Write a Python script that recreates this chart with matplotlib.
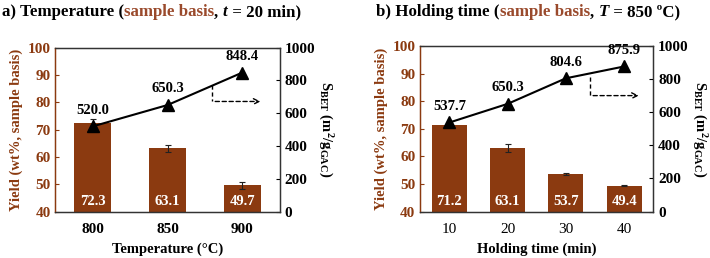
import matplotlib
matplotlib.use("Agg")
import matplotlib.pyplot as plt
import numpy as np

# Data
temp_labels = ["800", "850", "900"]
temp_yield = [72.3, 63.1, 49.7]
temp_yield_err = [1.5, 1.4, 1.3]
temp_sbet = [520.0, 650.3, 848.4]

time_labels = ["10", "20", "30", "40"]
time_yield = [71.2, 63.1, 53.7, 49.4]
time_yield_err = [0.0, 1.5, 0.3, 0.3]
time_sbet = [537.7, 650.3, 804.6, 875.9]

BROWN = "#8B3A10"
TITLE_BROWN = "#9A4A2C"
SPINE = "#333333"

plt.rcParams["font.family"] = ["Liberation Serif", "DejaVu Serif"]
plt.rcParams["mathtext.fontset"] = "custom"
plt.rcParams["mathtext.rm"] = "Liberation Serif:bold"
plt.rcParams["mathtext.it"] = "Liberation Serif:bold:italic"
plt.rcParams["mathtext.bf"] = "Liberation Serif:bold"

fig = plt.figure(figsize=(7.1, 2.58), dpi=100)
TFS = 11


def panel(rect, labels, yld, err, sbet, barw, xlabel, xtick_bold, arrow):
    ax = fig.add_axes(rect)
    x = np.arange(len(labels))
    ax.bar(x, yld, width=barw, color=BROWN, bottom=0, zorder=2)
    ax.errorbar(x, yld, yerr=err, fmt="none", ecolor="#222222", elinewidth=0.8,
                capsize=2, capthick=0.8, zorder=3)
    ax.set_ylim(40, 100)
    ax.set_xlim(-0.5, len(labels) - 0.5)
    ax.set_yticks(range(40, 101, 10))
    ax.tick_params(axis="y", direction="in", colors=BROWN, labelsize=TFS, length=3)
    for t in ax.get_yticklabels():
        t.set_fontweight("bold")
        t.set_color(BROWN)
    ax.set_xticks(x)
    ax.set_xticklabels(labels, fontsize=TFS, fontweight="bold" if xtick_bold else "normal")
    ax.tick_params(axis="x", length=0, pad=8)
    ax.set_xlabel(xlabel, fontsize=10.5, fontweight="bold", labelpad=5)
    ax.set_ylabel("Yield (wt%, sample basis)", fontsize=10.5, fontweight="bold",
                  color=BROWN, labelpad=3)
    for i, v in enumerate(yld):
        ax.text(i, 41.3, f"{v:.1f}", color="white", fontsize=10.5, fontweight="bold",
                ha="center", va="bottom", zorder=4)
    ax.spines["left"].set_color(BROWN)
    for s in ["top", "bottom", "right"]:
        ax.spines[s].set_color(SPINE)
    for s in ax.spines.values():
        s.set_linewidth(1.0)

    ax2 = ax.twinx()
    ax2.plot(x, sbet, color="black", lw=1.5, marker="^", markersize=8, zorder=5)
    ax2.set_ylim(0, 1000)
    ax2.set_yticks(range(0, 1001, 200))
    ax2.tick_params(axis="y", direction="in", colors="black", labelsize=TFS, length=3)
    for t in ax2.get_yticklabels():
        t.set_fontweight("bold")
    ax2.spines["left"].set_color(BROWN)
    for s in ["top", "bottom", "right"]:
        ax2.spines[s].set_color(SPINE)
    ax2.set_ylabel(r"$\mathrm{S_{BET}\ (m^{2}/g_{GAC})}$", fontsize=10.5,
                   rotation=270, labelpad=14)
    for i, v in enumerate(sbet):
        ax2.annotate(f"{v:.1f}", (i, v), xytext=(0, 7), textcoords="offset points",
                     ha="center", va="bottom", fontsize=10.5, fontweight="bold")
    # dashed arrow
    x0, y0, y1, x1 = arrow
    ax2.plot([x0, x0], [y0, y1], color="black", lw=1.0, ls=(0, (3, 2)))
    ax2.annotate("", xy=(x1, y1), xytext=(x0, y1),
                 arrowprops=dict(arrowstyle="->", color="black", lw=1.0, ls=(0, (3, 2))))
    return ax, ax2


panel([0.078, 0.18, 0.316, 0.635], temp_labels, temp_yield, temp_yield_err, temp_sbet,
      0.5, "Temperature (\u00b0C)", True, (1.6, 775, 672, 2.28))
panel([0.592, 0.18, 0.328, 0.642], time_labels, time_yield, time_yield_err, time_sbet,
      0.6, "Holding time (min)", False, (2.42, 810, 700, 3.3))

fs = 12.2


def rich_title(x, y, parts):
    renderer = fig.canvas.get_renderer()
    cur = x
    for txt, col, style in parts:
        t = fig.text(cur, y, txt, fontsize=fs, fontweight="bold", color=col,
                     style=style, va="center", ha="left")
        bb = t.get_window_extent(renderer=renderer)
        cur += bb.width / fig.bbox.width


rich_title(0.003, 0.952, [("a) Temperature (", "black", "normal"),
                          ("sample basis", TITLE_BROWN, "normal"),
                          (", ", "black", "normal"),
                          ("t", "black", "italic"),
                          (" = 20 min)", "black", "normal")])
rich_title(0.530, 0.952, [("b) Holding time (", "black", "normal"),
                          ("sample basis", TITLE_BROWN, "normal"),
                          (", ", "black", "normal"),
                          ("T", "black", "italic"),
                          (" = 850 \u00baC)", "black", "normal")])

fig.savefig("out.png", dpi=100)
